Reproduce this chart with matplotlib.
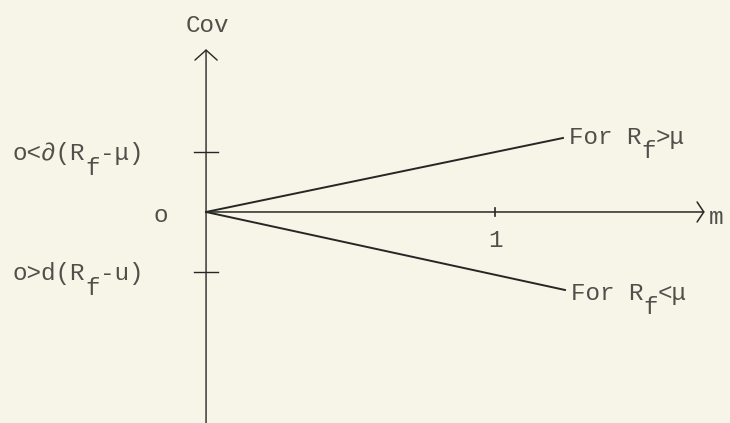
import numpy as np
import matplotlib.pyplot as plt

plt.rcParams['font.family'] = ['Liberation Mono', 'DejaVu Sans Mono']

# two rays from the origin (m, Cov)
m_end = [1.235, 1.242]
cov_end = [1.233, -1.3]
# label pieces: (text, is_subscript)
line_labels = [[("For R", 0), ("f", 1), (">μ", 0)],
               [("For R", 0), ("f", 1), ("<μ", 0)]]
line_label_dy = [-4, -7]

# tick marks
y_ticks = [1.0, -1.0]
y_tick_labels = [[("o<∂(R", 0), ("f", 1), ("-μ)", 0)],
                 [("o>d(R", 0), ("f", 1), ("-u)", 0)]]
x_ticks = [1.0]
x_tick_labels = ["1"]

ink = '#262626'
text_ink = '#50504b'
bg = '#f7f5e8'
fs = 17.5
cw = 0.6 * fs  # monospace character width in points


def typed(x, y, parts, dx=0, dy=0):
    # typewriter style text with full-size lowered subscripts
    n = 0
    for s, sub in parts:
        ax.annotate(s, xy=(x, y), xytext=(dx + n * cw, dy - 10.5 * sub),
                    textcoords='offset points', fontsize=fs, color=text_ink,
                    ha='left', va='baseline')
        n += len(s)


fig = plt.figure(figsize=(7.3, 4.23), dpi=100, facecolor=bg)
ax = fig.add_axes([0, 0, 1, 1])
ax.set_facecolor(bg)
ax.set_xlim(-0.713, 1.813)
ax.set_ylim(-3.517, 3.533)
ax.axis('off')

# axes with arrows
ax.annotate('', xy=(0, 2.76), xytext=(0, -3.6),
            arrowprops=dict(arrowstyle='->, head_length=0.45, head_width=0.5',
                            color=ink, lw=1.0, mutation_scale=16))
ax.annotate('', xy=(1.735, 0), xytext=(0, 0),
            arrowprops=dict(arrowstyle='->, head_length=0.3, head_width=0.45',
                            color=ink, lw=1.1, mutation_scale=16))
ax.text(1.74, -0.2, "m", color=text_ink, fontsize=fs, va='baseline', ha='left')
ax.text(0.005, 3.0, "Cov", color=text_ink, fontsize=fs, va='baseline', ha='center')
ax.text(-0.157, -0.17, "o", color=text_ink, fontsize=fs, va='baseline', ha='center')

for yt, lab in zip(y_ticks, y_tick_labels):
    ax.plot([-0.04, 0.04], [yt, yt], color=ink, lw=1.0)
    typed(-0.671, yt, lab, dy=-6)
for xt, lab in zip(x_ticks, x_tick_labels):
    ax.plot([xt, xt], [-0.07, 0.07], color=ink, lw=1.2)
    ax.text(xt, -0.58, lab, color=text_ink, fontsize=fs, va='baseline', ha='center')

for mx, cy, lab, ddy in zip(m_end, cov_end, line_labels, line_label_dy):
    ax.plot([0, mx], [0, cy], color=ink, lw=1.4)
    typed(mx, cy, lab, dx=4, dy=ddy)

fig.savefig('out.png', dpi=100, facecolor=fig.get_facecolor())
